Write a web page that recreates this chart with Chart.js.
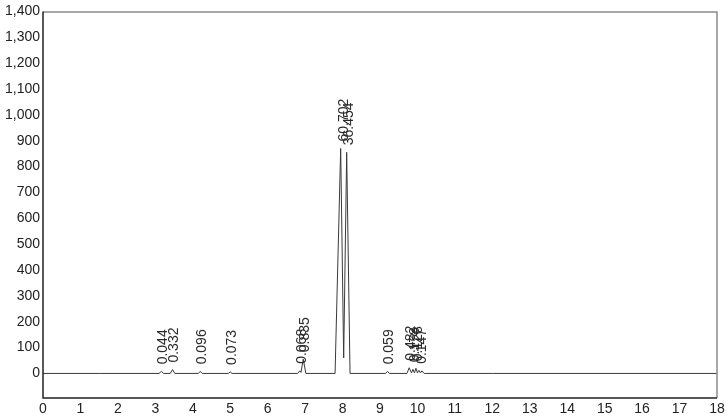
<!DOCTYPE html>
<html>
<head>
<meta charset="utf-8">
<script src="https://cdn.jsdelivr.net/npm/chart.js@4/dist/chart.umd.min.js"></script>
<style>
  html, body { margin: 0; padding: 0; background: #fff; }
  #wrap { width: 728px; height: 416px; }
</style>
</head>
<body>
<div id="wrap"><canvas id="chart" width="728" height="416"></canvas></div>
<script>
// chromatogram trace (retention time in min, signal)
const traceTime = [0, 1.5, 3.10, 3.16, 3.22, 3.40, 3.46, 3.52, 4.15, 4.20, 4.25, 4.95, 5.00, 5.05,
  6.80, 6.86, 6.89, 6.95, 7.02, 7.80, 7.95, 8.03, 8.11, 8.20, 9.15, 9.20, 9.25,
  9.72, 9.78, 9.84, 9.88, 9.92, 9.96, 10.00, 10.04, 10.08, 10.12, 10.18, 12, 18];
const traceSignal = [0, 0, 0, 8, 0, 0, 15, 0, 0, 8, 0, 0, 6, 0,
  0, 10, 4, 55, 0, 0, 870, 60, 855, 0, 0, 8, 0,
  0, 22, 2, 16, 2, 20, 2, 12, 2, 10, 0, 0, 0];

// integrated peak labels
const peakTime = [3.16, 3.46, 4.20, 5.00, 6.86, 6.95, 7.98, 8.13, 9.20, 9.78, 9.88, 9.96, 10.08];
const peakHeight = [8, 15, 8, 6, 10, 55, 870, 855, 8, 22, 16, 20, 10];
const peakLabel = ['0.044', '0.332', '0.096', '0.073', '0.068', '0.835', '60.702', '36.454',
  '0.059', '0.482', '0.178', '0.128', '0.147'];

const xTicks = [0, 1, 2, 3, 4, 5, 6, 7, 8, 9, 10, 11, 12, 13, 14, 15, 16, 17, 18];
const yTicks = [0, 100, 200, 300, 400, 500, 600, 700, 800, 900, 1000, 1100, 1200, 1300, 1400];

const points = traceTime.map((t, i) => ({ x: t, y: traceSignal[i] }));

// box around the plot and the peak labels
const framePlugin = {
  id: 'frame',
  afterDatasetsDraw(chart) {
    const { ctx, chartArea: a, scales } = chart;
    ctx.save();
    ctx.strokeStyle = '#8a8a8a';
    ctx.lineWidth = 1.5;
    ctx.beginPath();
    ctx.moveTo(a.left, a.top + 0.5);
    ctx.lineTo(a.right, a.top + 0.5);
    ctx.lineTo(a.right, a.bottom);
    ctx.stroke();
    ctx.strokeStyle = '#222';
    ctx.beginPath();
    ctx.moveTo(a.left, a.top);
    ctx.lineTo(a.left, a.bottom);
    ctx.lineTo(a.right, a.bottom);
    ctx.stroke();

    ctx.fillStyle = '#2a2a2a';
    ctx.font = '14px "Liberation Sans", Arial, sans-serif';
    ctx.textAlign = 'left';
    ctx.textBaseline = 'middle';
    peakLabel.forEach((txt, i) => {
      const px = scales.x.getPixelForValue(peakTime[i]) + 2;
      const py = scales.y.getPixelForValue(peakHeight[i]) - 7;
      ctx.save();
      ctx.translate(px, py);
      ctx.rotate(-Math.PI / 2);
      ctx.fillText(txt, 0, 0);
      ctx.restore();
    });
    ctx.restore();
  }
};

new Chart(document.getElementById('chart'), {
  type: 'line',
  data: {
    datasets: [{
      data: points,
      borderColor: '#3a3a3a',
      borderWidth: 1,
      pointRadius: 0,
      tension: 0,
      fill: false
    }]
  },
  options: {
    responsive: false,
    animation: false,
    locale: 'en-US',
    layout: { padding: { top: 8, right: 11, left: 0, bottom: 0 } },
    plugins: { legend: { display: false }, tooltip: { enabled: false } },
    scales: {
      x: {
        type: 'linear',
        min: 0,
        max: 18,
        afterBuildTicks: s => { s.ticks = xTicks.map(v => ({ value: v })); },
        afterFit: s => { s.height = 18; },
        grid: { display: false, drawTicks: false },
        border: { display: false },
        ticks: { color: '#222', padding: 3, maxRotation: 0, autoSkip: false,
          font: { family: '"Liberation Sans", Arial, sans-serif', size: 14 } }
      },
      y: {
        min: -95,
        max: 1400,
        afterBuildTicks: s => { s.ticks = yTicks.map(v => ({ value: v })); },
        afterFit: s => { s.width = 43; },
        grid: { display: false, drawTicks: false },
        border: { display: false },
        ticks: { color: '#222', padding: 3, autoSkip: false,
          font: { family: '"Liberation Sans", Arial, sans-serif', size: 14 } }
      }
    }
  },
  plugins: [framePlugin]
});
</script>
</body>
</html>
